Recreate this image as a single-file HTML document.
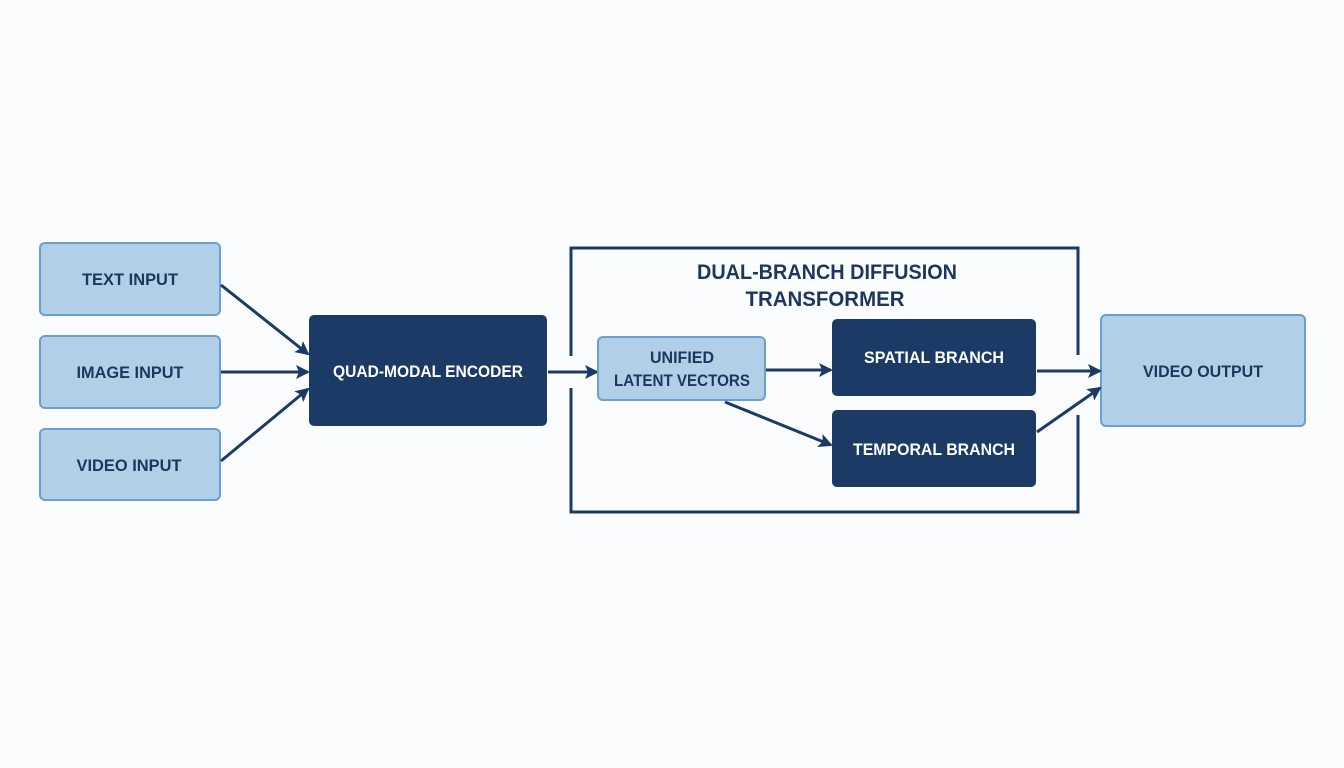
<!DOCTYPE html>
<html><head><meta charset="utf-8"><style>
html,body{margin:0;padding:0;background:#fbfcfd;}
svg{display:block}
text{font-family:"Liberation Sans Narrow","Liberation Sans",sans-serif;font-weight:bold;font-size:17px;text-anchor:middle;}
.l{fill:#b1d0e8;stroke:#6a9fd0;stroke-width:2}
.d{fill:#1b3a66}
.lt{fill:#1c365e}
.dt{fill:#ffffff}
.c{stroke:#1b3a66;stroke-width:3;fill:none}
</style></head><body>
<svg width="1344" height="768" viewBox="0 0 1344 768">
<defs>
<marker id="b" markerWidth="14" markerHeight="14" refX="12" refY="7" orient="auto" markerUnits="userSpaceOnUse"><path d="M0,0 L14,7 L0,14 L3,7z" fill="#1b3a66"/></marker></defs>
<rect class="l" x="40" y="243" width="180" height="72" rx="5"/>
<rect class="l" x="40" y="336" width="180" height="72" rx="5"/>
<rect class="l" x="40" y="429" width="180" height="71" rx="5"/>
<text class="lt" x="130" y="285" textLength="96" lengthAdjust="spacingAndGlyphs">TEXT INPUT</text>
<text class="lt" x="130" y="378" textLength="107" lengthAdjust="spacingAndGlyphs">IMAGE INPUT</text>
<text class="lt" x="129" y="471" textLength="105" lengthAdjust="spacingAndGlyphs">VIDEO INPUT</text>
<rect class="d" x="309" y="315" width="238" height="111" rx="5"/>
<text class="dt" x="428" y="377" textLength="190" lengthAdjust="spacingAndGlyphs">QUAD-MODAL ENCODER</text>
<path class="c" marker-end="url(#b)" d="M221,285 L308,354"/>
<path class="c" marker-end="url(#b)" d="M221,372 L308,372"/>
<path class="c" marker-end="url(#b)" d="M221,461 L308,389"/>
<path class="c" d="M571,356 V248 H1078 V355 M1078,415 V512 H571 V388" stroke-width="2.5"/>
<text class="lt" x="827" y="279" style="font-size:21px" textLength="260" lengthAdjust="spacingAndGlyphs">DUAL-BRANCH DIFFUSION</text>
<text class="lt" x="825" y="306" style="font-size:21px" textLength="159" lengthAdjust="spacingAndGlyphs">TRANSFORMER</text>
<path class="c" marker-end="url(#b)" d="M548,372 L597,372"/>
<rect class="l" x="598" y="337" width="167" height="63" rx="5"/>
<text class="lt" x="682" y="363" textLength="64" lengthAdjust="spacingAndGlyphs">UNIFIED</text>
<text class="lt" x="682" y="386" textLength="136" lengthAdjust="spacingAndGlyphs">LATENT VECTORS</text>
<rect class="d" x="832" y="319" width="204" height="77" rx="5"/>
<rect class="d" x="832" y="410" width="204" height="77" rx="5"/>
<text class="dt" x="934" y="363" textLength="140" lengthAdjust="spacingAndGlyphs">SPATIAL BRANCH</text>
<text class="dt" x="934" y="455" textLength="162" lengthAdjust="spacingAndGlyphs">TEMPORAL BRANCH</text>
<path class="c" marker-end="url(#b)" d="M766,370 L831,370"/>
<path class="c" marker-end="url(#b)" d="M725,402 L831,445"/>
<rect class="l" x="1101" y="315" width="204" height="111" rx="5"/>
<text class="lt" x="1203" y="377" textLength="120" lengthAdjust="spacingAndGlyphs">VIDEO OUTPUT</text>
<path class="c" marker-end="url(#b)" d="M1037,371 L1100,371"/>
<path class="c" marker-end="url(#b)" d="M1037,432 L1100,388"/>
</svg>
</body></html>
